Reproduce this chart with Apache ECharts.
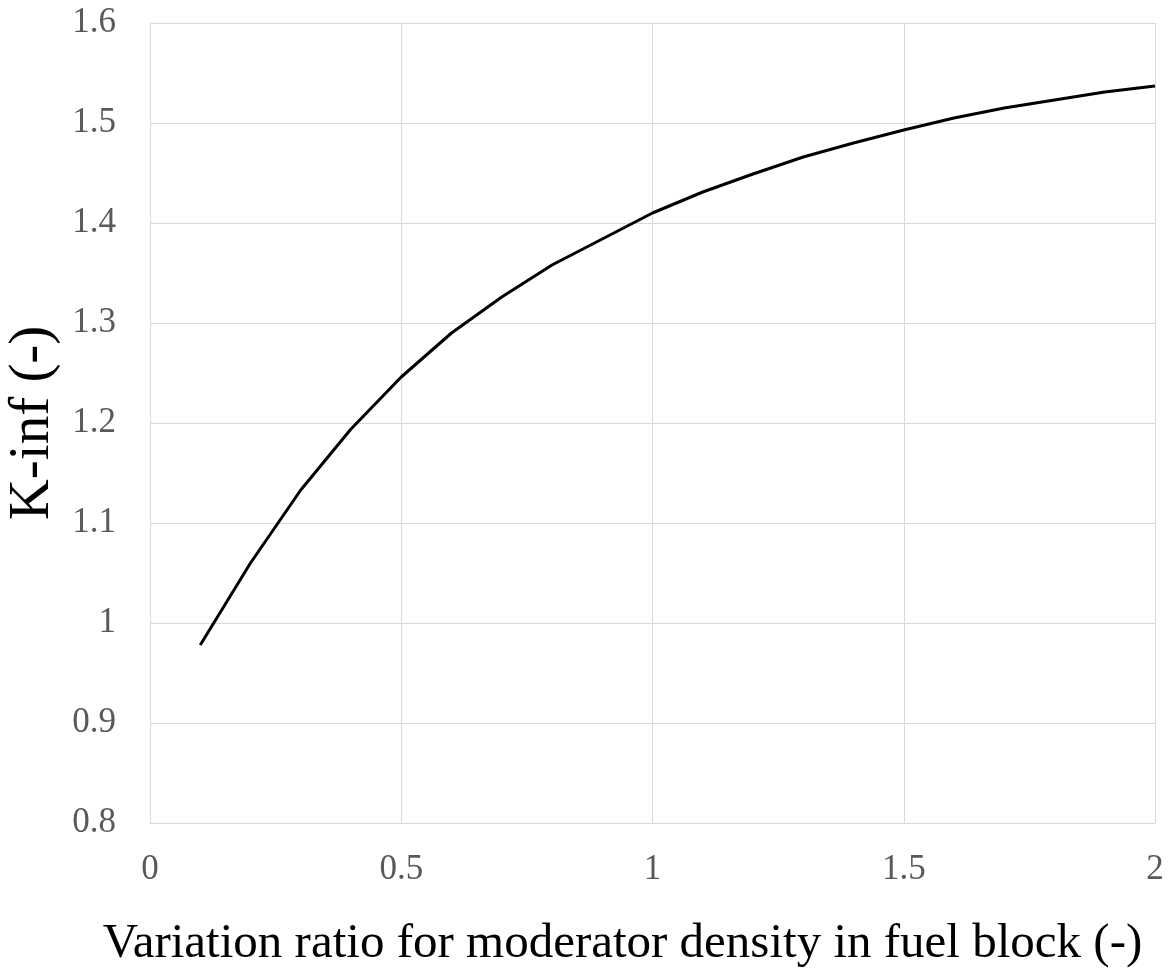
<!DOCTYPE html>
<html>
<head>
<meta charset="utf-8">
<script src="https://cdn.jsdelivr.net/npm/echarts@6/dist/echarts.min.js"></script>
<style>
  html, body { margin: 0; padding: 0; background: #fff; }
  #chart { width: 1172px; height: 974px; }
</style>
</head>
<body>
<div id="chart"></div>
<script>
// moderator density ratio vs k-inf
var ratio = [0.1, 0.2, 0.3, 0.4, 0.5, 0.6, 0.7, 0.8, 0.9, 1.0,
             1.1, 1.2, 1.3, 1.4, 1.5, 1.6, 1.7, 1.8, 1.9, 2.0];
var kinf = [0.978, 1.060, 1.133, 1.194, 1.246, 1.290, 1.326, 1.358, 1.384, 1.410,
            1.431, 1.449, 1.466, 1.480, 1.493, 1.505, 1.515, 1.523, 1.531, 1.537];
var xTitle = "Variation ratio for moderator density in fuel block (-)";
var yTitle = "K-inf (-)";

var font = "'Liberation Serif', 'Times New Roman', serif";
var chart = echarts.init(document.getElementById("chart"));

var option = {
  animation: false,
  grid: { left: 150, top: 23, right: 17, bottom: 151, outerBoundsMode: "none", containLabel: false },
  xAxis: {
    type: "value",
    min: 0,
    max: 2,
    interval: 0.5,
    name: xTitle,
    nameLocation: "middle",
    nameGap: 97,
    // title is centred on the whole chart, a bit left of the plot centre
    nameTextStyle: { fontFamily: font, fontSize: 49, color: "#000", padding: [0, 60, 0, 0] },
    axisLine: { lineStyle: { color: "#d9d9d9", width: 1 } },
    axisTick: { show: false },
    axisLabel: { fontFamily: font, fontSize: 35, color: "#595959", margin: 29 },
    splitLine: { show: true, lineStyle: { color: "#d9d9d9", width: 1 } }
  },
  yAxis: {
    type: "value",
    min: 0.8,
    max: 1.6,
    interval: 0.1,
    name: yTitle,
    nameLocation: "middle",
    nameGap: 76,
    nameTextStyle: { fontFamily: font, fontSize: 57, color: "#000" },
    axisLine: { show: true, lineStyle: { color: "#d9d9d9", width: 1 } },
    axisTick: { show: false },
    axisLabel: { fontFamily: font, fontSize: 35, color: "#595959", margin: 34 },
    splitLine: { show: true, lineStyle: { color: "#d9d9d9", width: 1 } }
  },
  series: [{
    type: "line",
    data: ratio.map(function (x, i) { return [x, kinf[i]]; }),
    showSymbol: false,
    smooth: false,
    lineStyle: { color: "#000", width: 3 }
  }]
};

chart.setOption(option);
</script>
</body>
</html>
